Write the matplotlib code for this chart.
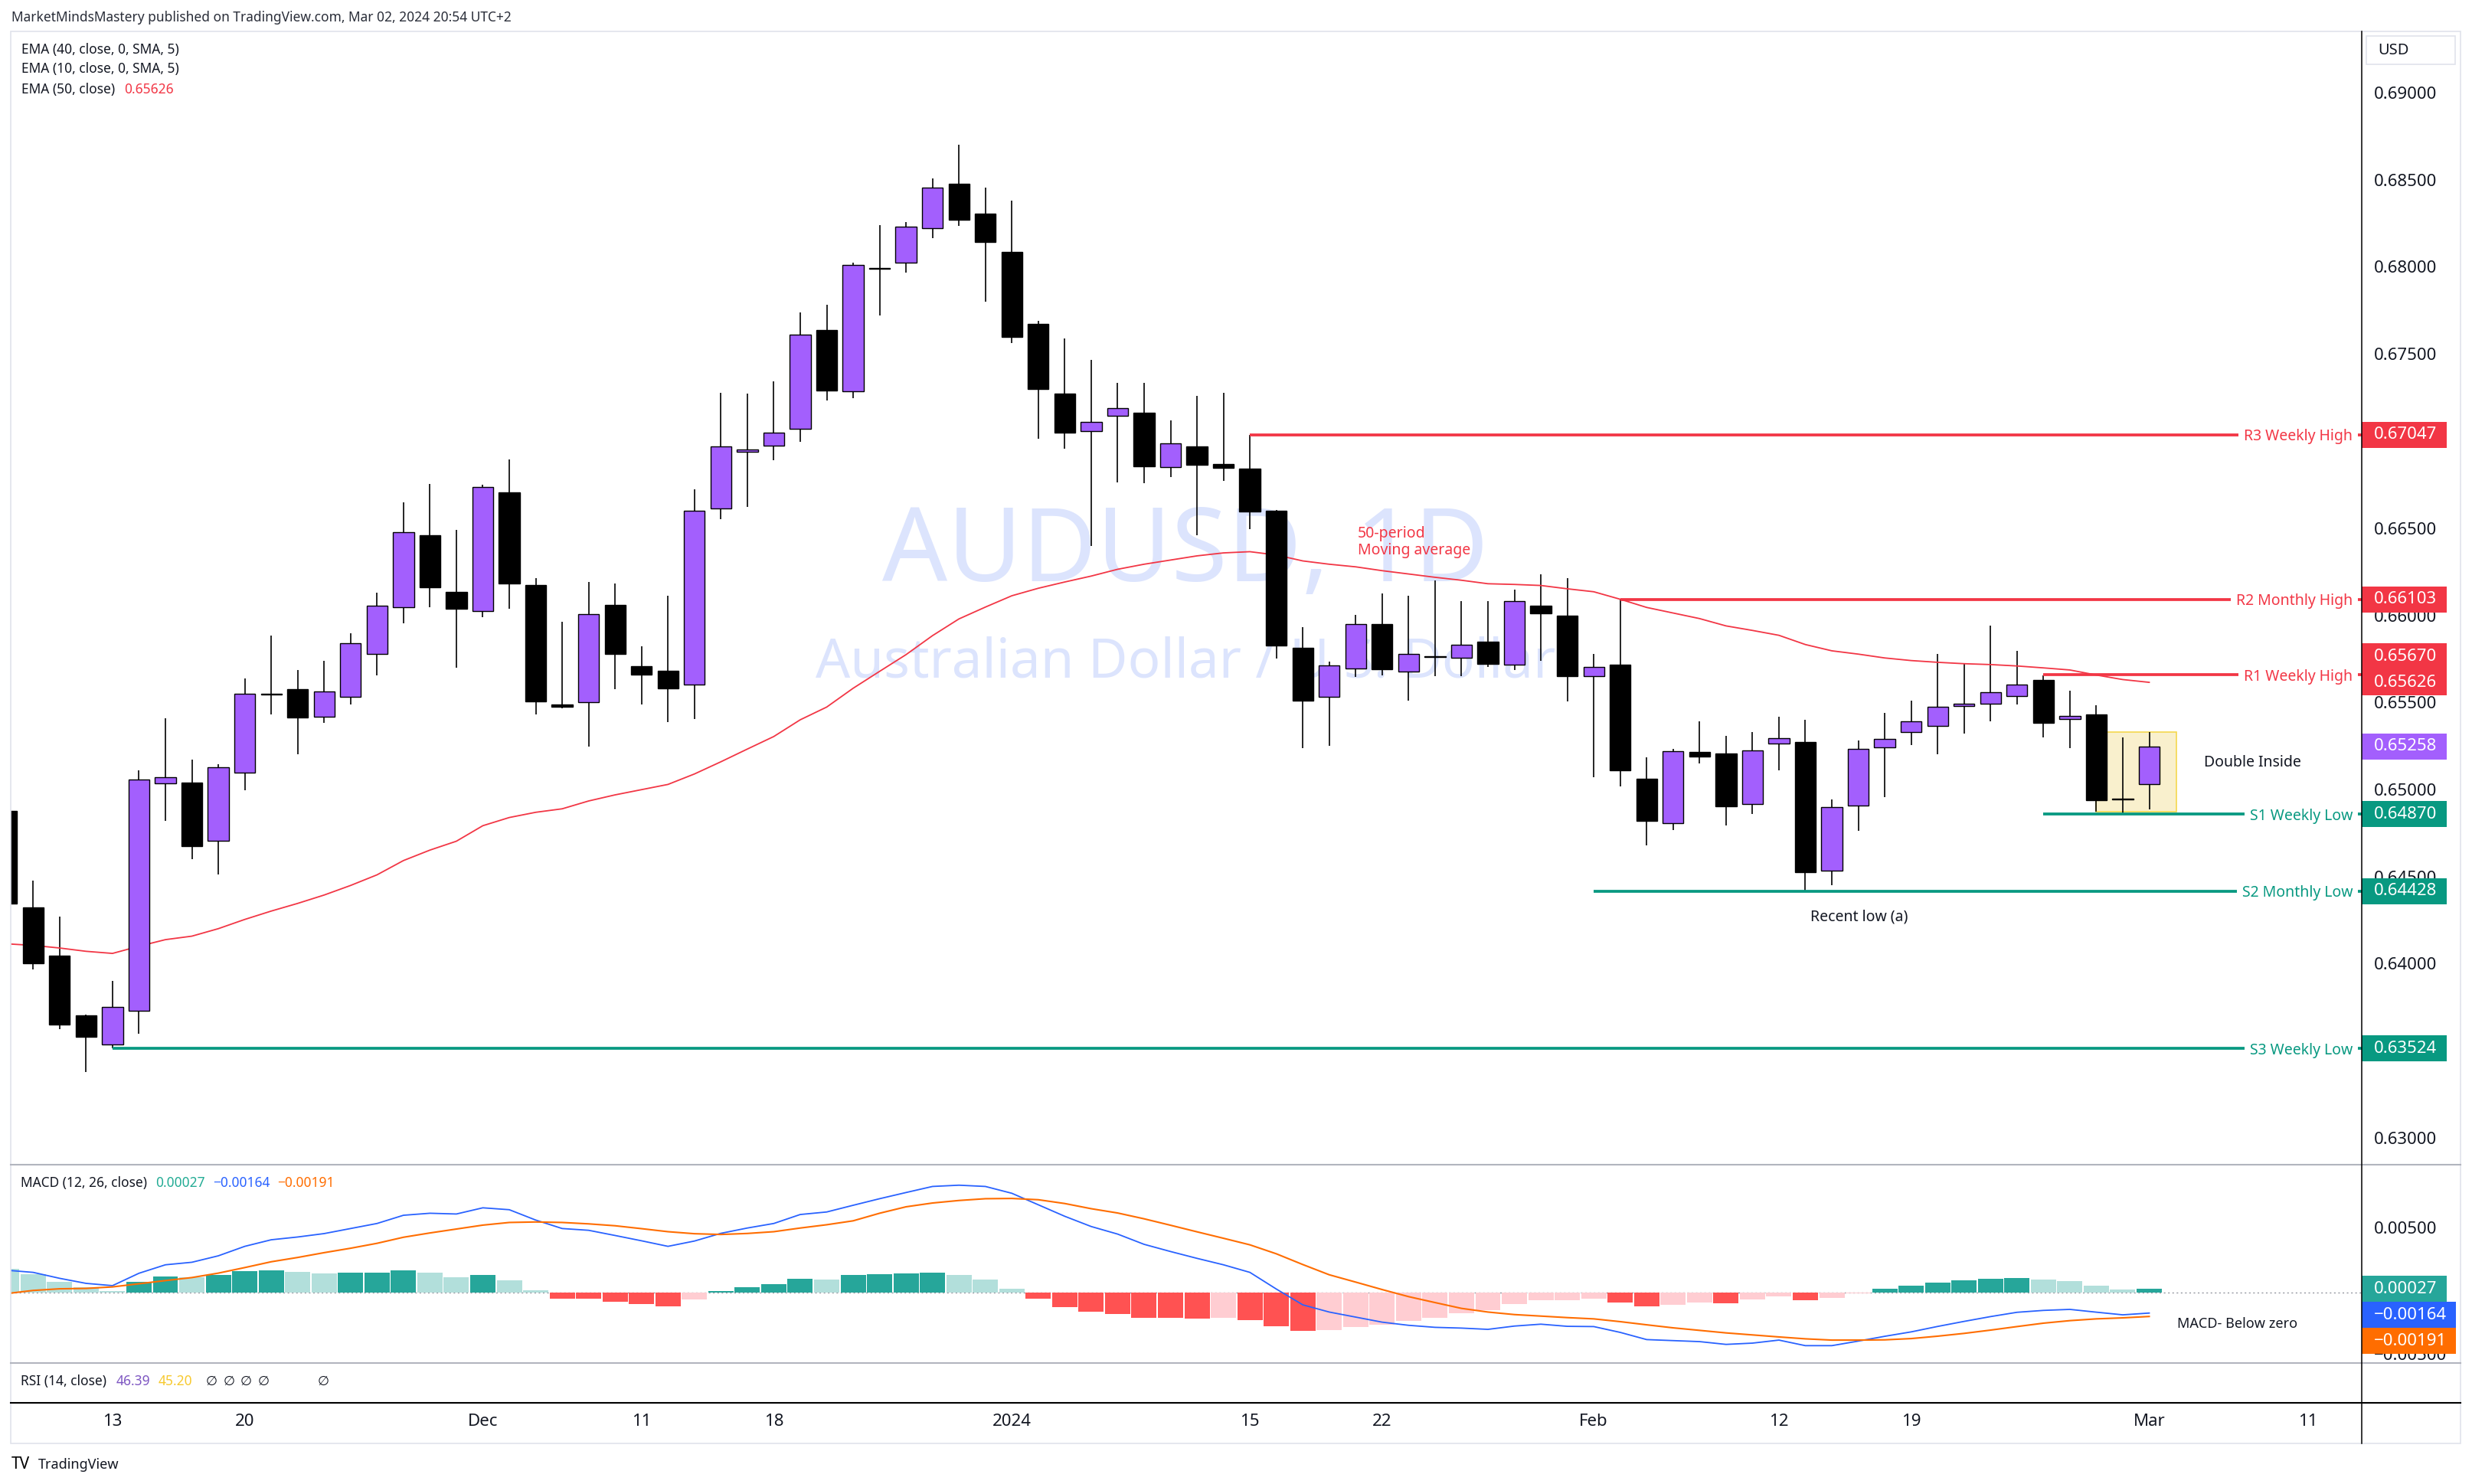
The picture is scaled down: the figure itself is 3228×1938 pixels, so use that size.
import numpy as np
import pandas as pd
import matplotlib
matplotlib.use("Agg")
import matplotlib.pyplot as plt
from matplotlib.patches import Rectangle
from matplotlib.lines import Line2D
import matplotlib.transforms as mtransforms

plt.rcParams['font.family'] = ['Noto Sans', 'DejaVu Sans']

# ---------------------------------------------------------------- data
holidays = ["2023-12-25", "2024-01-01"]
dates = [d for d in pd.bdate_range("2023-11-07", "2024-03-01")
         if d.strftime("%Y-%m-%d") not in holidays]
future_dates = list(pd.bdate_range("2024-03-04", "2024-03-15"))

opens = [0.64887, 0.64333, 0.64058, 0.63713, 0.63549, 0.63739, 0.65044, 0.65049, 0.64718, 0.65107,
         0.65560, 0.65589, 0.65430, 0.65543, 0.65791, 0.66059, 0.66469, 0.66146,
         0.66035, 0.66718, 0.66185, 0.65501, 0.65513, 0.66072, 0.65720, 0.65694, 0.65612, 0.66622,
         0.66950, 0.66986, 0.67080, 0.67647, 0.67297, 0.68003, 0.68037, 0.68233, 0.68486, 0.68315,
         0.68095, 0.67685, 0.67285, 0.67068, 0.67157, 0.67174, 0.66861, 0.66981, 0.66880, 0.66851,
         0.66612, 0.65826, 0.65544, 0.65706, 0.65961, 0.65689, 0.65778, 0.65768, 0.65858, 0.65726,
         0.66065, 0.66007,
         0.65662, 0.65726, 0.65074, 0.64816, 0.65225, 0.65219, 0.64929, 0.65274, 0.65285, 0.64543,
         0.64920, 0.65253, 0.65340, 0.65375, 0.65489, 0.65502, 0.65546, 0.65639, 0.65414, 0.65441,
         0.64957,
         0.65040]
highs = [0.64910, 0.64489, 0.64282, 0.63720, 0.63911, 0.65121, 0.65420, 0.65181, 0.65157, 0.65649,
         0.65895, 0.65695, 0.65750, 0.65907, 0.66141, 0.66659, 0.66765, 0.66500,
         0.66761, 0.66906, 0.66224, 0.65973, 0.66202, 0.66193, 0.65833, 0.66123, 0.66733, 0.67287,
         0.67283, 0.67355, 0.67750, 0.67794, 0.68035, 0.68249, 0.68269, 0.68519, 0.68710, 0.68466,
         0.68392, 0.67702, 0.67598, 0.67478, 0.67345, 0.67345, 0.67131, 0.67270, 0.67287, 0.67047,
         0.66615, 0.65944, 0.65744, 0.66014, 0.66135, 0.66123, 0.66209, 0.66094, 0.66094, 0.66158,
         0.66244, 0.66222,
         0.65788, 0.66103, 0.65197, 0.65246, 0.65402, 0.65319, 0.65340, 0.65428, 0.65410, 0.64952,
         0.65293, 0.65449, 0.65519, 0.65788, 0.65731, 0.65951, 0.65807, 0.65668, 0.65577, 0.65493,
         0.65309,
         0.65340]
lows = [0.64330, 0.63976, 0.63633, 0.63387, 0.63525, 0.63607, 0.64832, 0.64610, 0.64525, 0.65008,
        0.65442, 0.65213, 0.65394, 0.65500, 0.65666, 0.65965, 0.66059, 0.65712,
        0.65999, 0.66050, 0.65443, 0.65477, 0.65255, 0.65585, 0.65501, 0.65399, 0.65416, 0.66564,
        0.66634, 0.66902, 0.67008, 0.67244, 0.67256, 0.67731, 0.67977, 0.68177, 0.68245, 0.67811,
        0.67574, 0.67022, 0.66967, 0.66407, 0.66774, 0.66771, 0.66803, 0.66472, 0.66781, 0.66504,
        0.65764, 0.65250, 0.65262, 0.65657, 0.65665, 0.65520, 0.65662, 0.65662, 0.65715, 0.65698,
        0.65751, 0.65517,
        0.65082, 0.65027, 0.64688, 0.64780, 0.65159, 0.64803, 0.64869, 0.65121, 0.64428, 0.64462,
        0.64773, 0.64965, 0.65268, 0.65215, 0.65334, 0.65403, 0.65500, 0.65312, 0.65249, 0.64884,
        0.64870,
        0.64896]
closes = [0.64357, 0.64014, 0.63660, 0.63592, 0.63761, 0.65066, 0.65082, 0.64687, 0.65140, 0.65562,
          0.65555, 0.65422, 0.65572, 0.65852, 0.66064, 0.66486, 0.66170, 0.66047,
          0.66749, 0.66195, 0.65515, 0.65486, 0.66019, 0.65790, 0.65672, 0.65590, 0.66612, 0.66981,
          0.66964, 0.67061, 0.67620, 0.67299, 0.68020, 0.67999, 0.68240, 0.68464, 0.68283, 0.68153,
          0.67610, 0.67311, 0.67061, 0.67123, 0.67198, 0.66868, 0.66996, 0.66875, 0.66858, 0.66605,
          0.65838, 0.65520, 0.65725, 0.65961, 0.65701, 0.65790, 0.65772, 0.65843, 0.65734, 0.66093,
          0.66020, 0.65662,
          0.65715, 0.65123, 0.64829, 0.65229, 0.65200, 0.64916, 0.65234, 0.65304, 0.64535, 0.64908,
          0.65246, 0.65300, 0.65402, 0.65485, 0.65502, 0.65568, 0.65612, 0.65395, 0.65431, 0.64951,
          0.64954,
          0.65258]
ema50 = [0.64125, 0.64116, 0.64101, 0.64082, 0.64070, 0.64111, 0.64149, 0.64169, 0.64212, 0.64265,
         0.64313, 0.64357, 0.64405, 0.64460, 0.64521, 0.64603, 0.64663, 0.64714, 0.64803, 0.64850,
         0.64880, 0.64900, 0.64945, 0.64980, 0.65010, 0.65040, 0.65100, 0.65170, 0.65243, 0.65315,
         0.65411, 0.65484, 0.65592, 0.65689, 0.65785, 0.65894, 0.65990, 0.66058, 0.66123, 0.66166,
         0.66202, 0.66236, 0.66275, 0.66304, 0.66328, 0.66352, 0.66369, 0.66376, 0.66357, 0.66323,
         0.66304, 0.66289, 0.66267, 0.66248, 0.66229, 0.66212, 0.66192, 0.66188, 0.66182, 0.66163,
         0.66146, 0.66103, 0.66056, 0.66024, 0.65992, 0.65950, 0.65924, 0.65896, 0.65843, 0.65807,
         0.65788, 0.65766, 0.65751, 0.65741, 0.65733, 0.65728, 0.65720, 0.65709, 0.65697, 0.65668,
         0.65642, 0.65626]
macd_line = [0.00175, 0.00158, 0.00111, 0.00071, 0.00053, 0.00151, 0.00218, 0.00238, 0.00289, 0.00364,
             0.00416, 0.00438, 0.00465, 0.00505, 0.00545, 0.00610, 0.00626, 0.00620, 0.00669, 0.00654,
             0.00572, 0.00505, 0.00491, 0.00450, 0.00408, 0.00364, 0.00406, 0.00467, 0.00509, 0.00545,
             0.00616, 0.00636, 0.00689, 0.00741, 0.00790, 0.00838, 0.00848, 0.00838, 0.00784, 0.00693,
             0.00602, 0.00521, 0.00461, 0.00380, 0.00323, 0.00269, 0.00218, 0.00158, 0.00026, -0.00099,
             -0.00156, -0.00196, -0.00236, -0.00261, -0.00277, -0.00283, -0.00293, -0.00267, -0.00252, -0.00269,
             -0.00271, -0.00317, -0.00374, -0.00382, -0.00390, -0.00412, -0.00402, -0.00378, -0.00422, -0.00422,
             -0.00386, -0.00348, -0.00313, -0.00270, -0.00230, -0.00192, -0.00158, -0.00143, -0.00135, -0.00157,
             -0.00178, -0.00164]
signal_line = [-0.00010, 0.00015, 0.00028, 0.00031, 0.00043, 0.00068, 0.00093, 0.00117, 0.00152, 0.00196,
               0.00242, 0.00276, 0.00314, 0.00349, 0.00388, 0.00436, 0.00470, 0.00501, 0.00532, 0.00553,
               0.00557, 0.00553, 0.00542, 0.00527, 0.00504, 0.00480, 0.00464, 0.00458, 0.00466, 0.00480,
               0.00509, 0.00535, 0.00566, 0.00626, 0.00677, 0.00707, 0.00727, 0.00741, 0.00743, 0.00733,
               0.00703, 0.00662, 0.00628, 0.00582, 0.00531, 0.00479, 0.00428, 0.00376, 0.00305, 0.00220,
               0.00139, 0.00081, 0.00022, -0.00034, -0.00081, -0.00127, -0.00156, -0.00176, -0.00188, -0.00200,
               -0.00210, -0.00232, -0.00257, -0.00281, -0.00301, -0.00321, -0.00337, -0.00353, -0.00368, -0.00378,
               -0.00378, -0.00376, -0.00366, -0.00347, -0.00325, -0.00299, -0.00271, -0.00244, -0.00224, -0.00210,
               -0.00202, -0.00191]
macd_hist = [0.00185, 0.00143, 0.00083, 0.00040, 0.00010, 0.00083, 0.00125, 0.00121, 0.00137, 0.00168,
             0.00174, 0.00162, 0.00151, 0.00156, 0.00157, 0.00174, 0.00156, 0.00119, 0.00137, 0.00095,
             0.00018, -0.00048, -0.00049, -0.00075, -0.00091, -0.00111, -0.00055, 0.00010, 0.00040, 0.00065,
             0.00107, 0.00101, 0.00137, 0.00143, 0.00151, 0.00156, 0.00137, 0.00101, 0.00028, -0.00048,
             -0.00115, -0.00151, -0.00172, -0.00202, -0.00203, -0.00206, -0.00204, -0.00220, -0.00267, -0.00303,
             -0.00300, -0.00273, -0.00257, -0.00226, -0.00200, -0.00166, -0.00141, -0.00091, -0.00063, -0.00062,
             -0.00048, -0.00081, -0.00109, -0.00097, -0.00081, -0.00087, -0.00057, -0.00030, -0.00063, -0.00042,
             -0.00008, 0.00028, 0.00053, 0.00077, 0.00095, 0.00107, 0.00113, 0.00101, 0.00089, 0.00053,
             0.00024, 0.00027]

level_names = ["R3 Weekly High", "R2 Monthly High", "R1 Weekly High",
               "S1 Weekly Low", "S2 Monthly Low", "S3 Weekly Low"]
level_values = [0.67047, 0.66103, 0.65670, 0.64870, 0.64428, 0.63524]
level_starts = ["2024-01-15", "2024-02-02", "2024-02-26", "2024-02-26", "2024-02-01", "2023-11-13"]
level_kind = ["res", "res", "res", "sup", "sup", "sup"]

tick_dates = ["2023-11-13", "2023-11-20", "2023-12-01", "2023-12-11", "2023-12-18", "2024-01-02",
              "2024-01-15", "2024-01-22", "2024-02-01", "2024-02-12", "2024-02-19", "2024-03-01",
              "2024-03-11"]
tick_labels = ["13", "20", "Dec", "11", "18", "2024", "15", "22", "Feb", "12", "19", "Mar", "11"]
price_ticks = [0.630, 0.635, 0.640, 0.645, 0.650, 0.655, 0.660, 0.665, 0.670, 0.675, 0.680, 0.685, 0.690]
macd_ticks = [0.005, -0.005]

# ---------------------------------------------------------------- style
UP = "#a35ffd"
DOWN = "#000000"
RED = "#f23645"
GREEN = "#089981"
TXT = "#131722"

W, H, DPI = 3228, 1938, 100
fig = plt.figure(figsize=(W / DPI, H / DPI), dpi=DPI)
fig.patch.set_facecolor("white")


def rect(x0, y0, x1, y1):
    return [x0 / W, 1 - y1 / H, (x1 - x0) / W, (y1 - y0) / H]


def T(x, y, s, **kw):
    kw.setdefault("va", "center")
    kw.setdefault("ha", "left")
    kw.setdefault("color", TXT)
    return fig.text(x / W, 1 - y / H, s, **kw)


def L(x0, y0, x1, y1, **kw):
    fig.add_artist(Line2D([x0 / W, x1 / W], [1 - y0 / H, 1 - y1 / H],
                          transform=fig.transFigure, **kw))


def R(x0, y0, x1, y1, **kw):
    fig.add_artist(Rectangle((x0 / W, 1 - y1 / H), (x1 - x0) / W, (y1 - y0) / H,
                             transform=fig.transFigure, **kw))


# layout (pixels)
PX0, PX1 = 14, 3084
PY0, PY1 = 41, 1521
MY0, MY1 = 1521, 1780
RY1 = 1832
FY1 = 1885
AX1 = 3213
BAR0_PX, BAR_PX = 8.76, 34.54
P_REF, P_REF_PX, P_SCALE = 0.69, 123.5, 22750.0
M_ZERO_PX, M_SCALE = 1687.7, 16500.0

xlim = ((PX0 - BAR0_PX) / BAR_PX, (PX1 - BAR0_PX) / BAR_PX)
p_ylim = (P_REF - (PY1 - P_REF_PX) / P_SCALE, P_REF + (P_REF_PX - PY0) / P_SCALE)
m_ylim = (-(MY1 - M_ZERO_PX) / M_SCALE, (M_ZERO_PX - MY0) / M_SCALE)

all_dates = list(dates) + future_dates
date_pos = {d.strftime("%Y-%m-%d"): i for i, d in enumerate(all_dates)}
n = len(dates)
x = np.arange(n)
o = np.array(opens); h = np.array(highs); l = np.array(lows); c = np.array(closes)

ax_p = fig.add_axes(rect(PX0, PY0, PX1, PY1))
ax_m = fig.add_axes(rect(PX0, MY0, PX1, MY1))
ax_pr = fig.add_axes(rect(PX1, PY0, AX1, PY1))
ax_mr = fig.add_axes(rect(PX1, MY0, AX1, MY1))
for a in (ax_p, ax_m, ax_pr, ax_mr):
    a.set_axis_off()
ax_p.set_xlim(*xlim); ax_p.set_ylim(*p_ylim)
ax_m.set_xlim(*xlim); ax_m.set_ylim(*m_ylim)
ax_pr.set_xlim(0, 1); ax_pr.set_ylim(*p_ylim)
ax_mr.set_xlim(0, 1); ax_mr.set_ylim(*m_ylim)

# watermark
T(1548, 724, "AUDUSD, 1D", ha="center", fontsize=96, color="#dce4fd", zorder=-1)
T(1548, 866, "Australian Dollar / U.S. Dollar", ha="center", fontsize=51, color="#dce4fd", zorder=-1)

# ---------------------------------------------------------------- candles
bw = 0.79
min_body = 0.00006
ax_p.vlines(x, l, h, color="black", lw=1.2, zorder=3)
for i in range(n):
    up = c[i] >= o[i]
    bot = min(o[i], c[i])
    hh = max(abs(c[i] - o[i]), min_body)
    ax_p.add_patch(Rectangle((x[i] - bw / 2, bot), bw, hh, facecolor=UP if up else DOWN,
                             edgecolor="black", lw=1.0, zorder=4))

ax_p.plot(x, ema50, color=RED, lw=1.3, zorder=3.5)

# double inside box
i_a, i_b = date_pos["2024-02-28"], date_pos["2024-03-01"]
ax_p.add_patch(Rectangle((i_a, l[i_a]), (i_b + 1.02) - i_a, h[i_b] - l[i_a],
                         facecolor="#f9f0cd", edgecolor="#f5d84e", lw=1.2, zorder=1.5))

# level lines
btr = mtransforms.blended_transform_factory(ax_p.transAxes, ax_p.transData)
for name, val, start, kind in zip(level_names, level_values, level_starts, level_kind):
    col = RED if kind == "res" else GREEN
    ax_p.hlines(val, date_pos[start], xlim[1], color=col, lw=2.7, zorder=5)
    ax_p.text((3072 - PX0) / (PX1 - PX0), val, name, transform=btr, ha="right",
              va="center_baseline", color=col, fontsize=14, zorder=6,
              bbox=dict(boxstyle="square,pad=0.35", fc="white", ec="none"))

# annotations
T(1773, 697, "50-period", fontsize=14, color=RED)
T(1773, 719, "Moving average", fontsize=14, color=RED)
T(2878, 996, "Double Inside", fontsize=14)
T(2428, 1197, "Recent low (a)", fontsize=14, ha="center")

# ---------------------------------------------------------------- MACD
hist = np.array(macd_hist)
cols = []
for i, v in enumerate(hist):
    prev = hist[i - 1] if i > 0 else v + 1e-6
    if v >= 0:
        cols.append("#26a69a" if v > prev else "#b2dfdb")
    else:
        cols.append("#ff5252" if v < prev else "#ffcdd2")
ax_m.axhline(0, color="#9598a1", lw=1.0, ls=(0, (1.5, 2.5)), zorder=1)
ax_m.bar(x, hist, width=0.955, color=cols, zorder=2)
ax_m.plot(x, macd_line, color="#2962ff", lw=1.3, zorder=3)
ax_m.plot(x, signal_line, color="#ff6d00", lw=1.5, zorder=3)
T(2843, 1729, "MACD- Below zero", fontsize=13)

# ---------------------------------------------------------------- right axes
for v in price_ticks:
    ax_pr.text(0.124, v, f"{v:.5f}", ha="left", va="center", fontsize=16, color=TXT, zorder=2)
for v in macd_ticks:
    ax_mr.text(0.124, v, f"{v:.5f}".replace("-", "\u2212"), ha="left", va="center",
               fontsize=16, color=TXT, zorder=2)


def fmt(v):
    return f"{v:.5f}".replace("-", "\u2212")


def draw_boxes(ax, items, box_px, scale, push_up):
    hbox = box_px / scale
    items = sorted(items, key=lambda t: t[0], reverse=not push_up)
    placed = []
    for val, col, wfrac in items:
        pos = val
        if placed:
            last = placed[-1]
            if push_up and pos < last + hbox:
                pos = last + hbox
            if not push_up and pos > last - hbox:
                pos = last - hbox
        placed.append(pos)
        ax.add_patch(Rectangle((0, pos - hbox / 2), wfrac, hbox, facecolor=col,
                               edgecolor="none", zorder=5))
        ax.text(0.124, pos, fmt(val), ha="left", va="center", fontsize=16,
                color="white", zorder=6)


price_items = [(v, RED if k == "res" else GREEN, 0.86) for v, k in zip(level_values, level_kind)]
price_items += [(closes[-1], UP, 0.86), (ema50[-1], RED, 0.86)]
draw_boxes(ax_pr, price_items, 34, P_SCALE, True)
macd_items = [(macd_hist[-1], "#26a69a", 0.86), (macd_line[-1], "#2962ff", 0.953),
              (signal_line[-1], "#ff6d00", 0.953)]
draw_boxes(ax_mr, macd_items, 34, M_SCALE, False)

# USD box
R(3090, 47, 3206, 84, facecolor="white", edgecolor="#e0e3eb", lw=1.2, zorder=4)
T(3105, 66, "USD", fontsize=14.5, zorder=5)

# ---------------------------------------------------------------- x labels
xtr = mtransforms.blended_transform_factory(ax_m.transData, fig.transFigure)
for d, lab in zip(tick_dates, tick_labels):
    ax_m.text(date_pos[d], 1 - 1857 / H, lab, transform=xtr, ha="center", va="center",
              fontsize=16, color=TXT, fontweight="bold" if lab == "2024" else "normal",
              clip_on=False)

# ---------------------------------------------------------------- frame & separators
R(PX0, PY0, AX1, FY1, facecolor="none", edgecolor="#e0e3eb", lw=1.2, zorder=6)
L(PX0, MY0, AX1, MY0, color="#b2b5be", lw=1.5, zorder=6)
L(PX0, MY1, AX1, MY1, color="#b2b5be", lw=1.5, zorder=6)
L(PX0, RY1, AX1, RY1, color="black", lw=1.5, zorder=6)
L(PX1, PY0, PX1, FY1, color="black", lw=1.1, zorder=6)

# ---------------------------------------------------------------- legends & header
T(15, 23, "MarketMindsMastery published on TradingView.com, Mar 02, 2024 20:54 UTC+2",
  fontsize=12.5, color="#2a2e39")
T(28, 65, "EMA (40, close, 0, SMA, 5)", fontsize=12.5)
T(28, 90, "EMA (10, close, 0, SMA, 5)", fontsize=12.5)
T(28, 117, "EMA (50, close)", fontsize=12.5)
T(162, 117, f"{ema50[-1]:.5f}", fontsize=12.5, color=RED)

T(27, 1545, "MACD (12, 26, close)", fontsize=12.5)
T(203, 1545, fmt(macd_hist[-1]), fontsize=12.5, color="#22ab94")
T(278, 1545, fmt(macd_line[-1]), fontsize=12.5, color="#2962ff")
T(362, 1545, fmt(signal_line[-1]), fontsize=12.5, color="#ff6d00")

T(27, 1804, "RSI (14, close)", fontsize=12.5)
T(152, 1804, "46.39", fontsize=12.5, color="#7e57c2")
T(207, 1804, "45.20", fontsize=12.5, color="#f7c92e")
for xx in (269, 292, 314, 337, 415):
    T(xx, 1804, "\u2205", fontsize=12.5)

T(15, 1913, "TV", fontsize=15, fontweight="heavy", color="black")
T(50, 1913, "TradingView", fontsize=13, color="#131722")

fig.savefig("out.png", dpi=DPI, facecolor="white")
